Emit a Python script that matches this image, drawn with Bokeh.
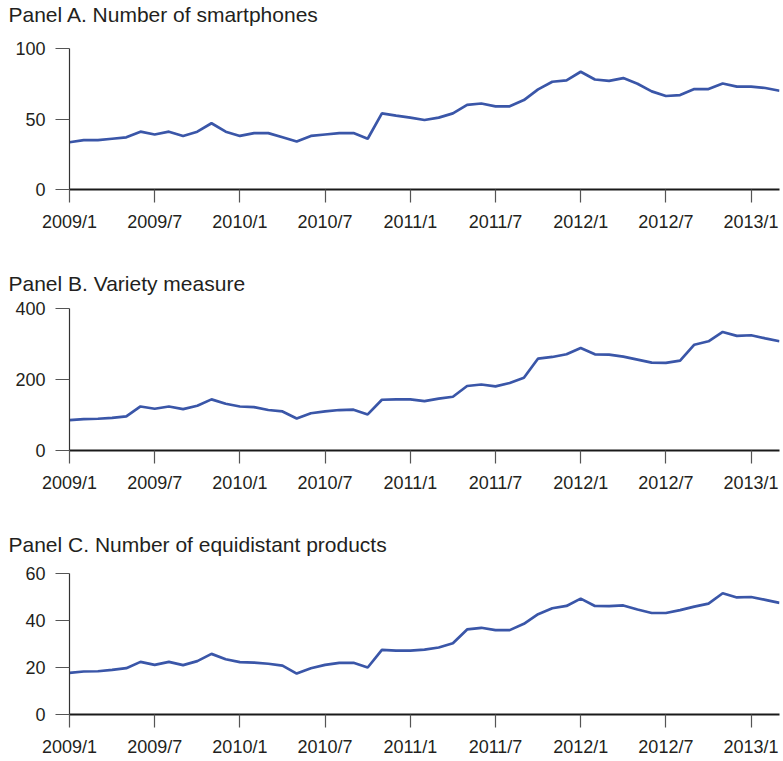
from bokeh.plotting import figure
from bokeh.layouts import column
from bokeh.models import Range1d, FixedTicker
from bokeh.embed import file_html
from bokeh.resources import INLINE

# Monthly observations, 2009/1 through 2013/3
months = list(range(51))

tick_months = [0, 6, 12, 18, 24, 30, 36, 42, 48]
tick_labels = ["2009/1", "2009/7", "2010/1", "2010/7", "2011/1",
               "2011/7", "2012/1", "2012/7", "2013/1"]

panel_titles = [
    "Panel A. Number of smartphones",
    "Panel B. Variety measure",
    "Panel C. Number of equidistant products",
]

smartphones = [
    33.5, 35, 35, 36, 37, 41, 39, 41, 38, 41,
    47, 41, 38, 40, 40, 37, 34, 38, 39, 40,
    40, 36, 54, 52.4, 51, 49.3, 51, 54, 60, 61,
    59, 59, 63.4, 71, 76.4, 77.4, 83.5, 78, 77, 79,
    75, 69.6, 66.3, 67, 71.2, 71.2, 75.2, 73, 73, 72,
    70,
]

variety = [
    85.6, 88.5, 89.4, 92, 96, 124, 117.6, 124, 116.7, 126,
    144, 131.8, 124, 122, 114, 110, 90, 105, 110, 114,
    115, 101.6, 143, 144, 144, 139, 146, 151.5, 181.6, 186,
    180.7, 190, 205, 259, 263.5, 271, 289, 271, 270, 264.4,
    256, 247.5, 246.6, 253, 298, 307.7, 334, 322.8, 324.6, 316,
    307.7,
]

equidistant = [
    17.7, 18.3, 18.4, 19, 19.7, 22.4, 21.1, 22.4, 21, 22.7,
    25.8, 23.5, 22.3, 22.1, 21.6, 20.8, 17.4, 19.7, 21.1, 22,
    22, 20, 27.5, 27.2, 27.2, 27.6, 28.5, 30.3, 36.2, 36.9,
    35.9, 35.9, 38.6, 42.7, 45.2, 46.2, 49.3, 46.2, 46.1, 46.4,
    44.7, 43.2, 43.2, 44.4, 45.9, 47.2, 51.6, 49.8, 50, 48.8,
    47.5,
]

series_list = [smartphones, variety, equidistant]
y_max = [100, 400, 60]
y_ticks = [[0, 50, 100], [0, 200, 400], [0, 20, 40, 60]]

# per panel: (heading standoff, top border, frame height, bottom border)
geometry = [
    (4, 18, 141, 81),
    (2, 10, 142, 81),
    (2, 14, 141, 44),
]

FONT = "Liberation Sans"
TEXT = "#231f20"
LINE = "#3a56a8"
LEFT, FRAME_W, RIGHT = 69, 710, 4


def heading(text, standoff):
    """A thin strip that carries only the panel heading."""
    t = figure(
        frame_width=FRAME_W, frame_height=1,
        min_border_left=LEFT, min_border_right=RIGHT,
        min_border_top=0, min_border_bottom=0,
        x_axis_type=None, y_axis_type=None,
        output_backend="svg", toolbar_location=None,
        title=text,
    )
    t.outline_line_color = None
    t.xgrid.visible = False
    t.ygrid.visible = False
    t.title.text_font = FONT
    t.title.text_font_size = "21px"
    t.title.text_font_style = "normal"
    t.title.text_color = TEXT
    t.title.align = "left"
    t.title.vertical_align = "top"
    t.title.offset = -61
    t.title.standoff = standoff
    return t


def panel(series, ymax, yticks, top, fh, bottom):
    p = figure(
        frame_width=FRAME_W, frame_height=fh,
        min_border_left=LEFT, min_border_right=RIGHT,
        min_border_top=top, min_border_bottom=bottom,
        x_range=Range1d(0, 50), y_range=Range1d(0, ymax),
        output_backend="svg", toolbar_location=None,
    )
    p.line(months, series, line_color=LINE, line_width=2.7)

    p.xgrid.visible = False
    p.ygrid.visible = False
    p.outline_line_color = None

    xa = p.xaxis[0]
    xa.ticker = FixedTicker(ticks=tick_months)
    xa.major_label_overrides = {m: lab for m, lab in zip(tick_months, tick_labels)}
    xa.axis_line_color = "#1a1a1a"
    xa.axis_line_width = 2.2
    xa.major_tick_line_color = "#555555"
    xa.major_tick_line_width = 1.2
    xa.major_tick_out = 13
    xa.major_tick_in = 0
    xa.minor_tick_line_color = None
    xa.major_label_text_font = FONT
    xa.major_label_text_font_size = "18px"
    xa.major_label_text_color = TEXT
    xa.major_label_standoff = 9

    ya = p.yaxis[0]
    ya.ticker = FixedTicker(ticks=yticks)
    ya.axis_line_color = "#333333"
    ya.axis_line_width = 1.2
    ya.major_tick_line_color = "#555555"
    ya.major_tick_line_width = 1.2
    ya.major_tick_out = 14
    ya.major_tick_in = 0
    ya.minor_tick_line_color = None
    ya.major_label_text_font = FONT
    ya.major_label_text_font_size = "18px"
    ya.major_label_text_color = TEXT
    ya.major_label_standoff = 10
    return p


parts = []
for text, series, ymax, yticks, (standoff, top, fh, bottom) in zip(
        panel_titles, series_list, y_max, y_ticks, geometry):
    parts.append(heading(text, standoff))
    parts.append(panel(series, ymax, yticks, top, fh, bottom))

layout = column(*parts, spacing=0)

with open("out.html", "w") as f:
    f.write(file_html(layout, INLINE))
